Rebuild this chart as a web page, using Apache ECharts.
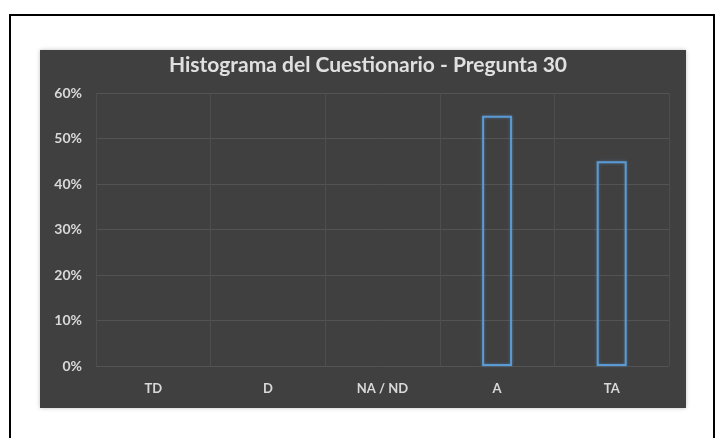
<!DOCTYPE html>
<html>
<head>
<meta charset="UTF-8">
<title>Histograma del Cuestionario - Pregunta 30</title>
<style type="text/css">
html, body {
	margin: 0;
	padding: 0;
	background: #ffffff;
}
#main {
	width: 717px;
	height: 438px;
}
</style>
</head>
<body>
<div id="main"></div>
<script type="text/javascript" src="https://cdn.jsdelivr.net/npm/echarts@6/dist/echarts.min.js"></script>
<script type="text/javascript">
	// categorias de respuesta
	var categorias = [ "TD", "D", "NA / ND", "A", "TA" ];
	// porcentaje de respuestas
	var porcentajes = [ 0, 0, 0, 55, 45 ];
	var ticksY = [ 0, 10, 20, 30, 40, 50, 60 ];

	var chart = echarts.init(document.getElementById('main'));

	// las barras en cero no se dibujan en el original
	var datosBarras = [];
	for (var i in porcentajes) {
		datosBarras.push(porcentajes[i] === 0 ? '-' : porcentajes[i]);
	}

	var option = {
		backgroundColor : '#ffffff',
		animation : false,
		graphic : [ {
			// marco exterior
			type : 'rect',
			shape : { x : 10, y : 15, width : 704, height : 440 },
			style : { fill : '#ffffff', stroke : '#000000', lineWidth : 2 },
			z : -10
		}, {
			// panel oscuro
			type : 'rect',
			shape : { x : 40, y : 50, width : 646, height : 358 },
			style : { fill : '#404040', shadowBlur : 4, shadowColor : 'rgba(0,0,0,0.25)' },
			z : -9
		} ],
		title : {
			text : 'Histograma del Cuestionario - Pregunta 30',
			left : 363,
			top : 50,
			textAlign : 'center',
			textStyle : {
				color : '#e0e0e0',
				fontFamily : 'Lato',
				fontWeight : 'bold',
				fontSize : 21
			}
		},
		grid : {
			left : 96,
			right : 48,
			top : 93,
			bottom : 72
		},
		xAxis : {
			type : 'category',
			data : categorias,
			axisLine : { show : false },
			axisTick : { show : false },
			splitLine : {
				show : true,
				lineStyle : { color : '#4d4d4d', width : 1 }
			},
			axisLabel : {
				color : '#d9d9d9',
				fontFamily : 'Lato',
				fontWeight : 'bold',
				fontSize : 13,
				margin : 16
			}
		},
		yAxis : {
			type : 'value',
			min : ticksY[0],
			max : ticksY[ticksY.length - 1],
			interval : 10,
			axisLine : { show : false },
			axisTick : { show : false },
			splitLine : {
				lineStyle : { color : '#535353', width : 1 }
			},
			axisLabel : {
				color : '#d9d9d9',
				fontFamily : 'Lato',
				fontWeight : 'bold',
				fontSize : 14,
				margin : 14,
				formatter : '{value}%'
			}
		},
		series : [ {
			name : 'Porcentaje',
			type : 'bar',
			data : datosBarras,
			barWidth : 30,
			itemStyle : {
				color : 'rgba(0,0,0,0)',
				borderColor : '#5b9bd5',
				borderWidth : 2,
				shadowBlur : 3,
				shadowColor : 'rgba(91,155,213,0.5)'
			}
		} ]
	};

	chart.setOption(option);
</script>
</body>
</html>
